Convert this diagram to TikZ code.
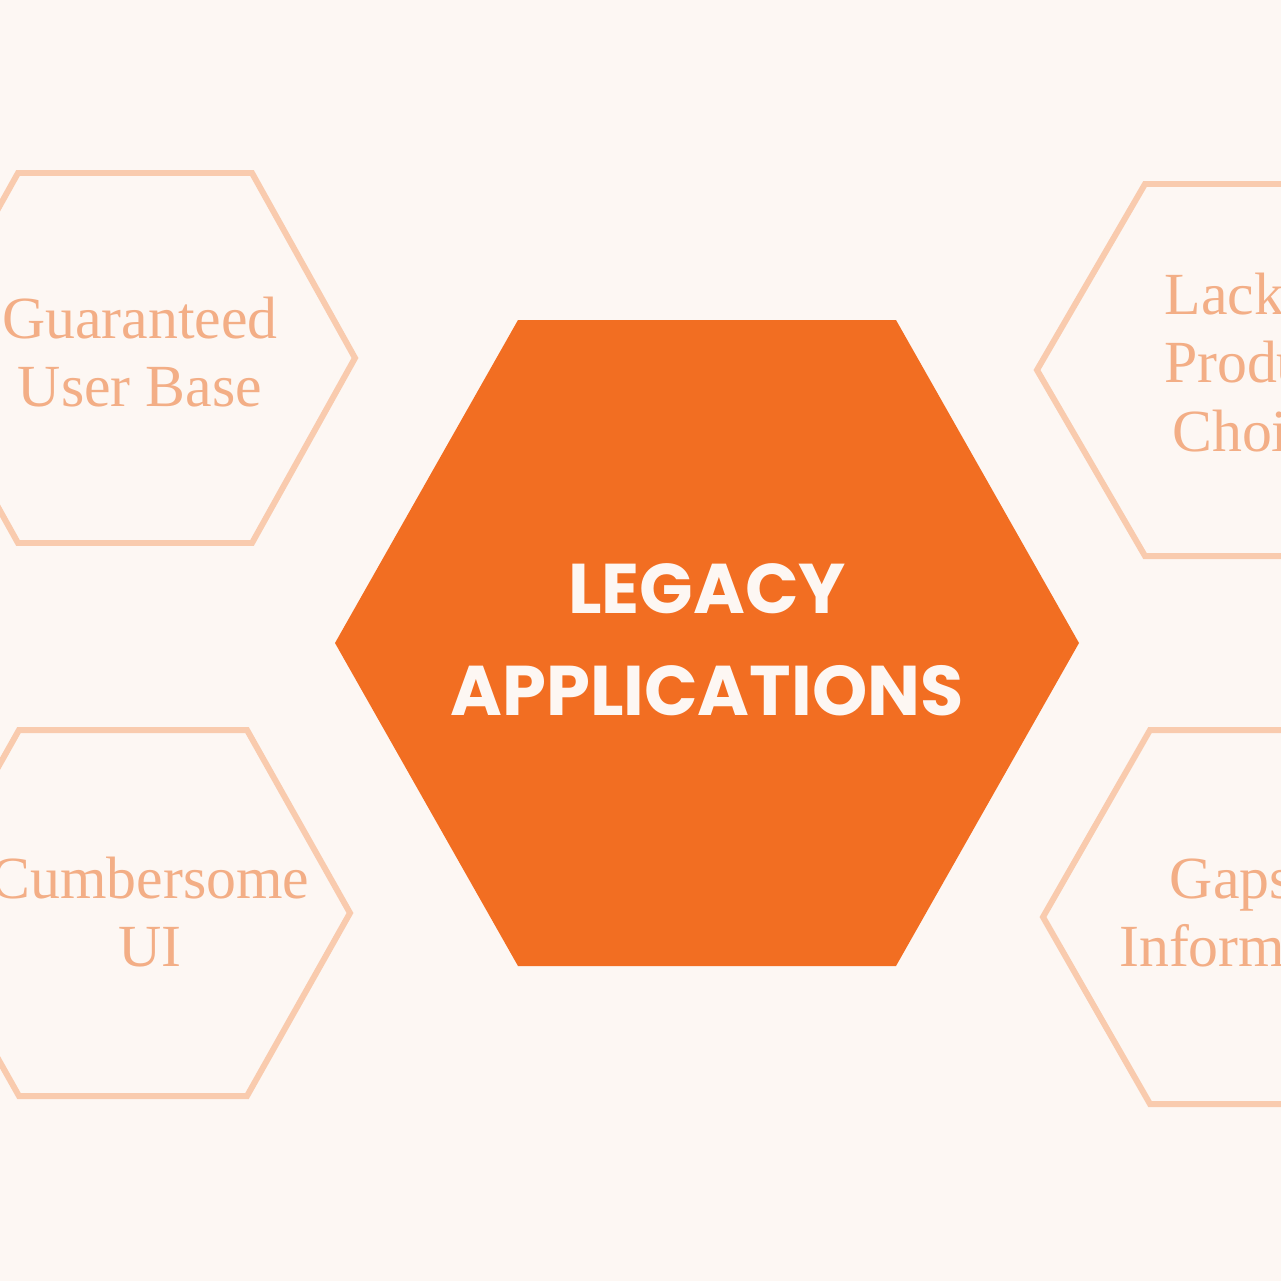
\documentclass[tikz,border=0pt]{standalone}
\usepackage{fontspec}
\setmainfont{Liberation Serif}
\newfontfamily\headfont{Poppins}
\usetikzlibrary{positioning}
\definecolor{bgcream}{HTML}{FDF7F3}
\definecolor{legacyorange}{HTML}{F26E22}
\definecolor{softline}{HTML}{F9CBAE}
\definecolor{softtext}{HTML}{F3AE86}
\tikzset{
  core/.style={fill=legacyorange, draw=none},
  petal/.style={draw=softline, line width=1.7pt, fill=none},
  petaltext/.style={text=softtext, align=center, font=\fontsize{17}{19.5}\selectfont},
  coretext/.style={text=bgcream, align=center, font=\headfont\bfseries\fontsize{20}{29}\selectfont}
}
% hexagon: centre x, centre y, half width, half height, inset of the top edge
\newcommand{\hexpath}[5]{(#1-#3,#2) -- (#1-#3+#5,#2+#4) -- (#1+#3-#5,#2+#4) -- (#1+#3,#2) -- (#1+#3-#5,#2-#4) -- (#1-#3+#5,#2-#4) -- cycle}
\begin{document}
\begin{tikzpicture}[x=0.01cm, y=-0.01cm]
  \fill[bgcream] (0,0) rectangle (1281,1281);
  \useasboundingbox (0,0) rectangle (1281,1281);
  \begin{scope}
    \clip (0,0) rectangle (1281,1281);
    % centre
    \fill[core] \hexpath{707}{643}{372}{323}{183};
    % outer petals
    \draw[petal] \hexpath{135}{358}{220}{185}{103};
    \draw[petal] \hexpath{133}{913}{217}{183}{103};
    \draw[petal] \hexpath{1257}{370}{220}{186}{108};
    \draw[petal] \hexpath{1263}{917}{220}{187}{107};
  \end{scope}
  \node[coretext] (legacy) at (707,640) {LEGACY\\APPLICATIONS};
  \node[petaltext] (userbase) at (140,352) {Guaranteed\\User Base};
  \node[petaltext] (clunky) at (150,912) {Cumbersome\\UI};
  \node[petaltext] (choice) at (1257,362) {Lack of\\Product\\Choice};
  \node[petaltext] (gaps) at (1262,913) {Gaps in\\Information};
\end{tikzpicture}
\end{document}
